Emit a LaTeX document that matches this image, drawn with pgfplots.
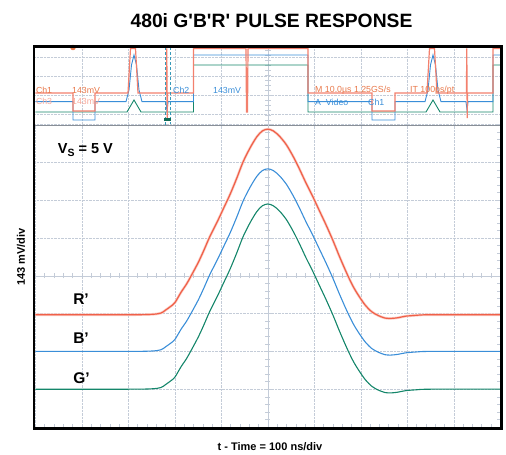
\documentclass[border=0pt]{standalone}
\usepackage{pgfplots}
\usepackage{pgfplotstable}
\pgfplotsset{compat=1.18}
\usepackage{fontspec}
\setmainfont{Liberation Sans}
\definecolor{rcol}{HTML}{F06048}
\definecolor{tcol}{HTML}{E8784A}
\definecolor{bcol}{HTML}{3A8ED8}
\definecolor{gcol}{HTML}{14866A}
\definecolor{gridc}{HTML}{C4CCD8}
\pgfplotstableread{
t R B G
-5.00 -1.030 -2.000 -3.000
-3.00 -1.030 -2.000 -3.000
-2.50 -1.020 -1.990 -2.990
-2.30 -0.986 -1.957 -2.956
-2.20 -0.907 -1.879 -2.878
-2.09 -0.809 -1.783 -2.780
-2.00 -0.711 -1.686 -2.682
-1.87 -0.441 -1.420 -2.412
-1.75 -0.220 -1.203 -2.192
-1.66 -0.023 -1.010 -1.996
-1.50 0.345 -0.648 -1.628
-1.38 0.664 -0.334 -1.310
-1.25 1.032 0.029 -0.942
-1.09 1.425 0.415 -0.550
-0.95 1.793 0.777 -0.183
-0.81 2.162 1.140 0.185
-0.67 2.579 1.550 0.602
-0.53 3.021 1.985 1.043
-0.38 3.389 2.347 1.410
-0.24 3.674 2.627 1.694
-0.12 3.831 2.782 1.851
0.00 3.880 2.830 1.900
0.12 3.831 2.782 1.851
0.25 3.693 2.646 1.714
0.40 3.463 2.419 1.484
0.55 3.144 2.106 1.165
0.68 2.824 1.792 0.847
0.82 2.456 1.429 0.479
0.96 2.112 1.091 0.136
1.10 1.744 0.729 -0.232
1.25 1.351 0.343 -0.624
1.40 0.934 -0.068 -1.040
1.53 0.541 -0.454 -1.432
1.65 0.198 -0.793 -1.775
1.74 -0.048 -1.034 -2.020
1.85 -0.318 -1.300 -2.290
1.96 -0.539 -1.517 -2.510
2.10 -0.785 -1.759 -2.755
2.24 -0.956 -1.928 -2.927
2.38 -1.055 -2.024 -3.025
2.52 -1.118 -2.087 -3.088
2.65 -1.128 -2.097 -3.098
2.80 -1.109 -2.077 -3.078
2.96 -1.069 -2.039 -3.039
3.20 -1.045 -2.014 -3.015
3.50 -1.030 -2.000 -3.000
5.00 -1.030 -2.000 -3.000
}\pulse
\begin{document}
\begin{tikzpicture}
\useasboundingbox (0pt,0pt) rectangle (506pt,455pt);
% ---------- overview strip ----------
\begin{axis}[at={(35.4pt,330pt)}, anchor=south west, width=464.9pt, height=77.5pt, scale only axis,
 xmin=35.4, xmax=500.3, ymin=47.5, ymax=125, y dir=reverse,
 axis line style={draw=none},
 xtick={81.9,128.4,174.9,221.4,267.9,314.4,360.9,407.4,453.9}, ytick={57,76,95,114},
 xticklabel=\empty, yticklabel=\empty, tick style={draw=none},
 grid=major, major grid style={gridc, densely dotted, line width=0.5pt},
 clip mode=individual]
 \draw[gridc, line width=0.5pt] (axis cs:267.9,47.5) -- (axis cs:267.9,125);
 \pgfplotsinvokeforeach{50,55,...,120}{\draw[gridc, line width=0.4pt] (axis cs:265,#1) -- (axis cs:270.8,#1);}
 \addplot[gcol, line width=0.9pt] coordinates {(35.4,112) (127,112) (130.5,106) (134,100) (137.5,106) (141,112) (193.5,112) (193.5,65) (308,65) (308,112) (426,112) (429.5,106) (433,100) (436.5,106) (440,112) (493,112) (493,65) (500.3,65)};
 \addplot[bcol, line width=0.9pt] coordinates {(35.4,101.7) (73,101.7) (73,120) (95,120) (95,101.7) (126,101.7) (129,90) (131.5,65) (134,55) (136.5,65) (139,90) (142,101.7) (166,101.7) (167,112) (168,101.7) (193.5,101.7) (193.5,55) (308,55) (308,101.7) (372,101.7) (372,120) (395,120) (395,101.7) (425,101.7) (428,90) (430.5,65) (433,55) (435.5,65) (438,90) (441,101.7) (466,101.7) (467,110) (468,101.7) (493,101.7) (493,55) (500.3,55)};
 \addplot[rcol!80, line width=1.2pt] coordinates {(35.4,93) (73,93) (73,111) (95,111) (95,93) (128,93) (130.5,48.5) (135.5,48.5) (138,93) (166.4,93) (166.8,48.5) (167.2,120) (167.6,93) (193.5,93) (193.5,48.5) (246,48.5) (246.5,112) (247.5,112) (248,48.5) (308,48.5) (308,93) (372,93) (372,111) (395,111) (395,93) (427,93) (429.5,48.5) (434.5,48.5) (437,93) (466.4,93) (466.8,48.5) (467.2,118) (467.6,93) (493,93) (493,48.5) (500.3,48.5)};
 \addplot[only marks, mark=*, mark size=2.5pt, tcol] coordinates {(73,47.5)};
 \addplot[only marks, mark=*, mark size=4pt, tcol] coordinates {(267.9,125.5)};
 \draw[cyan!50!gcol, densely dashed, line width=0.6pt] (axis cs:165,47.5) -- (axis cs:165,125);
 \draw[cyan!50!gcol, densely dashed, line width=0.6pt] (axis cs:170,47.5) -- (axis cs:170,125);
 \fill[gcol!80!black] (axis cs:164,118.5) rectangle (axis cs:171,121.5);
 \begin{scope}[every node/.style={inner sep=0pt, anchor=west, font=\fontsize{8.8}{10}\selectfont}]
 \node[text=tcol] at (axis cs:35.8,90) {Ch1};
 \node[text=tcol] at (axis cs:72,90) {143mV};
 \node[text=rcol!55] at (axis cs:35.8,101.5) {Ch3};
 \node[text=rcol!55] at (axis cs:72,101.5) {143mV};
 \node[text=bcol] at (axis cs:173,90) {Ch2};
 \node[text=bcol] at (axis cs:213,90) {143mV};
 \node[text=tcol] at (axis cs:315,90) {M 10.0µs 1.25GS/s};
 \node[text=tcol] at (axis cs:410,90) {IT 100ps/pt};
 \node[text=bcol] at (axis cs:315,102) {A\ \ Video};
 \node[text=bcol] at (axis cs:368,102) {Ch1};
 \end{scope}
\end{axis}
\draw[gridc!70!black, line width=0.5pt] (35.4pt,330pt) -- (500.3pt,330pt);
% ---------- border ticks ----------
\begin{axis}[at={(35.4pt,28pt)}, anchor=south west, width=464.9pt, height=302.4pt, scale only axis,
 xmin=-5,xmax=5,ymin=-4,ymax=4, axis line style={draw=none},
 xtick={-5,...,5}, ytick={-4,...,4}, minor x tick num=4, minor y tick num=4,
 xticklabel=\empty, yticklabel=\empty, xtick pos=bottom, ytick pos=right,
 tick align=inside, major tick length=3pt, minor tick length=3pt,
 tick style={gridc, line width=0.5pt}]
\end{axis}
% ---------- main display ----------
\begin{axis}[at={(35.4pt,28pt)}, anchor=south west, width=464.9pt, height=302.4pt, scale only axis,
 xmin=-5,xmax=5,ymin=-4,ymax=4,
 axis lines=middle, axis line style={gridc, line width=0.5pt, -},
 every inner x axis line/.append style={-}, every inner y axis line/.append style={-},
 xtick={-5,...,5}, ytick={-4,...,4}, minor x tick num=4, minor y tick num=4,
 xticklabel=\empty, yticklabel=\empty,
 tick align=center, major tick length=6pt, minor tick length=5pt,
 tick style={gridc, line width=0.5pt},
 grid=major, major grid style={gridc, densely dotted, line width=0.6pt}]
 \addplot[rcol!30, line width=2.6pt, smooth, tension=0.5] table[x=t,y=R] {\pulse};
 \addplot[rcol, line width=1.2pt, smooth, tension=0.5] table[x=t,y=R] {\pulse};
 \addplot[bcol, line width=1.1pt, smooth, tension=0.5] table[x=t,y=B] {\pulse};
 \addplot[gcol, line width=1.1pt, smooth, tension=0.5] table[x=t,y=G] {\pulse};
 \node[anchor=base west, inner sep=0pt, font=\fontsize{14.5}{16}\selectfont\bfseries] at (axis cs:-4.52,3.23) {V\raisebox{-0.35ex}{\fontsize{10.5}{12}\selectfont\bfseries S} = 5 V};
 \node[anchor=base west, inner sep=0pt, font=\fontsize{15.5}{18}\selectfont\bfseries] at (axis cs:-4.19,-0.767) {R’};
 \node[anchor=base west, inner sep=0pt, font=\fontsize{15.5}{18}\selectfont\bfseries] at (axis cs:-4.19,-1.786) {B’};
 \node[anchor=base west, inner sep=0pt, font=\fontsize{15.5}{18}\selectfont\bfseries] at (axis cs:-4.19,-2.84) {G’};
\end{axis}
% ---------- frame and labels ----------
\draw[line width=2.7pt] (34pt,26.7pt) rectangle (501.7pt,408.8pt);
\node[anchor=base, inner sep=0pt, font=\fontsize{19.3}{22}\selectfont\bfseries] at (271.5pt,427.7pt) {480i G\textquotesingle B\textquotesingle R\textquotesingle{} PULSE RESPONSE};
\node[anchor=base, inner sep=0pt, font=\fontsize{11}{13}\selectfont\bfseries] at (270pt,4pt) {t - Time = 100 ns/div};
\node[rotate=90, anchor=center, inner sep=0pt, font=\fontsize{11}{13}\selectfont\bfseries] at (21pt,198pt) {143 mV/div};
\end{tikzpicture}
\end{document}
